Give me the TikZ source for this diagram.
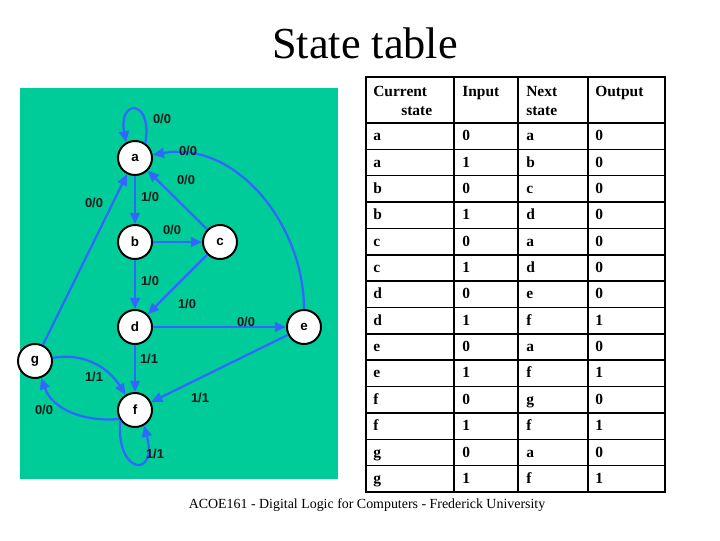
\documentclass[tikz,border=0pt]{standalone}
\usepackage{fontspec}
\setmainfont{Liberation Serif}
\setsansfont{Liberation Sans}
\usetikzlibrary{arrows.meta}
\definecolor{FsmGreen}{HTML}{00CC99}
\definecolor{EdgeBlue}{HTML}{3366FF}

\begin{document}
\begin{tikzpicture}[x=0.025cm, y=0.025cm,
    state/.style={circle, draw=black, line width=1.4pt, fill=white, minimum size=0.85cm, inner sep=0pt, font=\sffamily\bfseries\fontsize{9.5}{11}\selectfont},
    trans/.style={-{Triangle[length=8pt, width=7pt]}, line width=1.6pt, EdgeBlue},
    lbl/.style={inner sep=0pt, font=\sffamily\bfseries\fontsize{9.2}{11}\selectfont, text=black!90},
    cell/.style={anchor=base west, inner sep=0pt, font=\bfseries\fontsize{11}{13}\selectfont},
    tabline/.style={line width=1.1pt, black}
  ]
  \useasboundingbox (0,0) rectangle (720,540);

  \node[anchor=base, font=\fontsize{31.5}{38}\selectfont] (title) at (365,481) {State table};

  % state diagram
  \fill[FsmGreen] (20,61) rectangle (338,452);

  \node[state] (a) at (135,382) {a};
  \node[state] (b) at (135,298) {b};
  \node[state] (c) at (220,298) {c};
  \node[state] (d) at (135,213) {d};
  \node[state] (e) at (304,213) {e};
  \node[state] (g) at (35,179) {g};
  \node[state] (f) at (135,130) {f};

  \draw[trans] (a.55) .. controls +(80:45) and +(100:45) .. (a.120);
  \draw[trans] (e) to[out=90, in=10] (a);
  \draw[trans] (c) -- (a);
  \draw[trans] (a) -- (b);
  \draw[trans] (g) -- (a);
  \draw[trans] (b) -- (c);
  \draw[trans] (b) -- (d);
  \draw[trans] (c) -- (d);
  \draw[trans] (d) -- (e);
  \draw[trans] (d) -- (f);
  \draw[trans] (e) -- (f);
  \draw[trans] (g) to[out=10, in=122] (f);
  \draw[trans] (f.210) to[out=185, in=-70] (g);
  \draw[trans] (f.215) .. controls +(265:55) and +(285:55) .. (f.300);

  \node[lbl] (laa) at (162,421) {0/0};
  \node[lbl] (lea) at (188,389) {0/0};
  \node[lbl] (lca) at (186,360) {0/0};
  \node[lbl] (lab) at (150,343) {1/0};
  \node[lbl] (lga) at (94,337) {0/0};
  \node[lbl] (lbc) at (172,310) {0/0};
  \node[lbl] (lbd) at (150,259) {1/0};
  \node[lbl] (lcd) at (187,236) {1/0};
  \node[lbl] (lde) at (246,218) {0/0};
  \node[lbl] (ldf) at (149,181) {1/1};
  \node[lbl] (lgf) at (94,163) {1/1};
  \node[lbl] (lfg) at (44,130) {0/0};
  \node[lbl] (lef) at (200,142) {1/1};
  \node[lbl] (lff) at (155,86) {1/1};

  % state table
  \draw[tabline] (366,48) rectangle (665,463);
  \foreach \x in {454,518,588}
    \draw[tabline] (\x,48) -- (\x,463);
  \foreach \k in {0,...,13}
    \draw[tabline] (366,{417-\k*26.36}) -- (665,{417-\k*26.36});

  \node[cell] (hcur) at (373,443) {Current};
  \node[cell] (hcur2) at (401,424.5) {state};
  \node[cell] (hinp) at (462,443) {Input};
  \node[cell] (hnxt) at (526,443) {Next};
  \node[cell] (hnxt2) at (526,424.5) {state};
  \node[cell] (hout) at (595,443) {Output};

  \foreach \cur/\inp/\nxt/\outp [count=\r] in {a/0/a/0, a/1/b/0, b/0/c/0, b/1/d/0, c/0/a/0, c/1/d/0, d/0/e/0, d/1/f/1, e/0/a/0, e/1/f/1, f/0/g/0, f/1/f/1, g/0/a/0, g/1/f/1} {
    \node[cell] (cur-\r) at (373,{399.3-(\r-1)*26.36}) {\cur};
    \node[cell] (inp-\r) at (462,{399.3-(\r-1)*26.36}) {\inp};
    \node[cell] (nxt-\r) at (526,{399.3-(\r-1)*26.36}) {\nxt};
    \node[cell] (out-\r) at (595,{399.3-(\r-1)*26.36}) {\outp};
  }

  \node[anchor=base, font=\fontsize{9.9}{12}\selectfont] (caption) at (367,32) {ACOE161 - Digital Logic for Computers - Frederick University};
\end{tikzpicture}
\end{document}
